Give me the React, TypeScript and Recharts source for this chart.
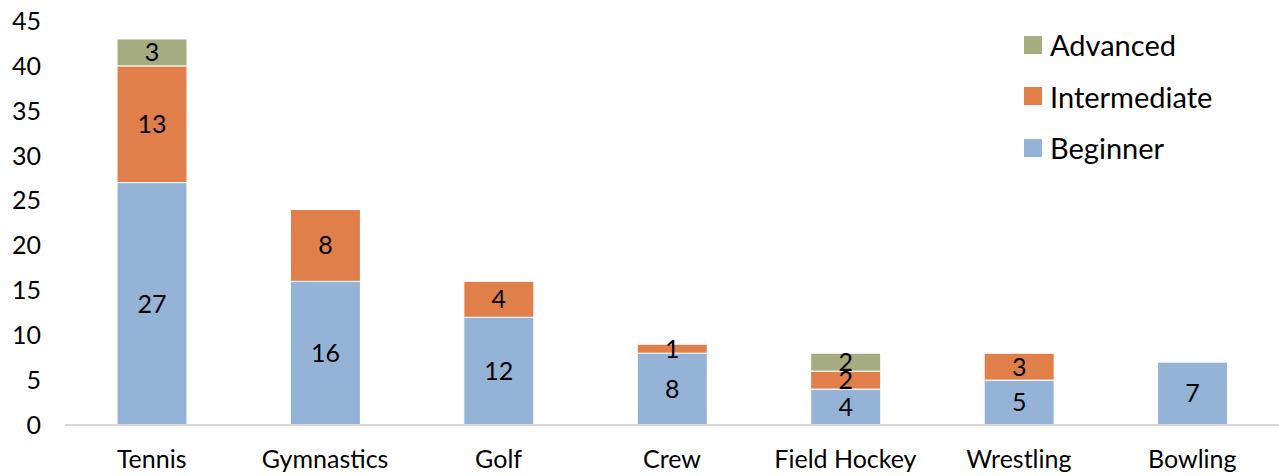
import { BarChart, Bar, XAxis, YAxis, LabelList } from 'recharts';

const sports = ['Tennis', 'Gymnastics', 'Golf', 'Crew', 'Field Hockey', 'Wrestling', 'Bowling'];
const beginner = [27, 16, 12, 8, 4, 5, 7];
const intermediate = [13, 8, 4, 1, 2, 3, 0];
const advanced = [3, 0, 0, 0, 2, 0, 0];
const yTicks = [0, 5, 10, 15, 20, 25, 30, 35, 40, 45];

const COLORS = { Beginner: '#95B3D7', Intermediate: '#E07F4A', Advanced: '#A4AC80' };
const FONT = 'Lato, "Open Sans", sans-serif';

const data = sports.map((s, i) => ({
  sport: s,
  Beginner: beginner[i],
  Intermediate: intermediate[i],
  Advanced: advanced[i],
}));

const hideZero = (v: any) => (v ? v : '');

function Legend() {
  const items = ['Advanced', 'Intermediate', 'Beginner'] as const;
  return (
    <div style={{ position: 'absolute', left: 1024, top: 19, fontFamily: FONT }}>
      {items.map((k) => (
        <div key={k} style={{ display: 'flex', alignItems: 'center', height: 51.5 }}>
          <span style={{ width: 18, height: 18, background: COLORS[k], marginRight: 8 }} />
          <span style={{ fontSize: 29, color: '#000' }}>{k}</span>
        </div>
      ))}
    </div>
  );
}

export default function App() {
  return (
    <div style={{ position: 'absolute', left: 0, top: 0, width: 1279, height: 476, background: '#fff' }}>
      <BarChart width={1279} height={476} data={data} margin={{ top: 21, right: 0, left: 0, bottom: 0 }}>
        <XAxis
          dataKey="sport"
          height={51}
          tickLine={false}
          axisLine={{ stroke: '#D9D9D9', strokeWidth: 2 }}
          tick={{ fill: '#000', fontSize: 25, fontFamily: FONT }}
          tickMargin={19}
        />
        <YAxis
          width={65}
          domain={[0, 45]}
          ticks={yTicks}
          axisLine={false}
          tickLine={false}
          tick={{ fill: '#000', fontSize: 25, fontFamily: FONT }}
          tickMargin={18}
        />
        {(['Beginner', 'Intermediate', 'Advanced'] as const).map((k) => (
          <Bar key={k} dataKey={k} stackId="a" fill={COLORS[k]} barSize={70} stroke="#fff" strokeWidth={1} isAnimationActive={false}>
            <LabelList dataKey={k} position="center" formatter={hideZero} style={{ fill: '#000', fontSize: 25, fontFamily: FONT }} />
          </Bar>
        ))}
      </BarChart>
      <Legend />
    </div>
  );
}
